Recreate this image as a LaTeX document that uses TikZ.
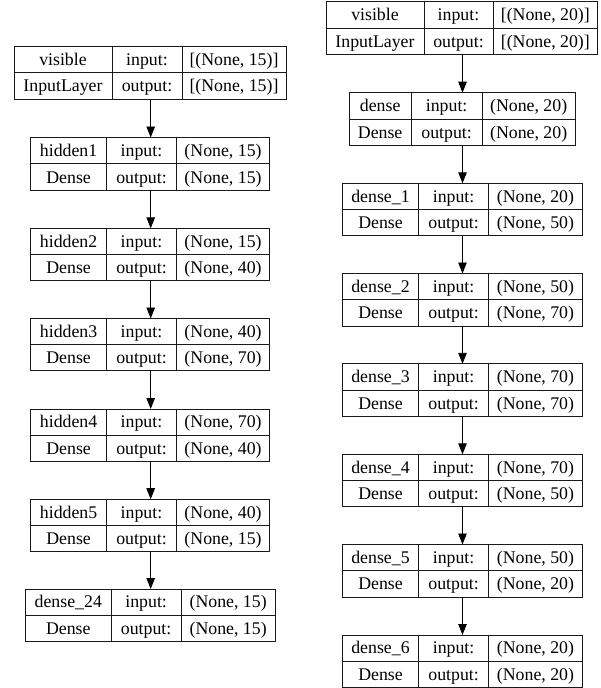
\documentclass[tikz,border=0pt]{standalone}
\usepackage{fontspec}
\setmainfont{Liberation Serif}
\usetikzlibrary{arrows.meta}
\tikzset{
  layerbox/.style={draw=black!90, line width=0.9pt, rectangle, inner sep=0pt, outer sep=0pt},
  layerline/.style={draw=black!90, line width=0.9pt},
  celltext/.style={inner sep=0pt, anchor=base, font=\fontsize{17.8}{20}\selectfont},
  link/.style={draw=black, line width=0.9pt, -{Triangle[length=11pt,width=8.5pt]}},
}
% \layerbox{id}{x0}{d1}{d2}{x1}{ytop}{ybot}
\newcommand\layerbox[7]{%
  \pgfmathsetmacro\LBw{#5-#2}%
  \pgfmathsetmacro\LBh{#7-#6}%
  \pgfmathsetmacro\LBcx{(#2+#5)/2}%
  \pgfmathsetmacro\LBcy{(#6+#7)/2}%
  \pgfmathsetmacro\LBca{(#2+#3)/2}%
  \pgfmathsetmacro\LBcb{(#3+#4)/2}%
  \pgfmathsetmacro\LBcc{(#4+#5)/2}%
  \pgfmathsetmacro\LBra{(#6+\LBcy)/2+5.9}%
  \pgfmathsetmacro\LBrb{(\LBcy+#7)/2+5.9}%
  \node[layerbox, minimum width=\LBw pt, minimum height=\LBh pt] (#1) at (\LBcx,\LBcy) {};
  \draw[layerline] (#1.west) -- (#1.east);
  \draw[layerline] (#3,#6) -- (#3,#7);
  \draw[layerline] (#4,#6) -- (#4,#7);
}
% \layertext{id}{name}{type}{in}{out}
\newcommand\layertext[5]{%
  \node[celltext] (#1-name) at (\LBca,\LBra) {#2};
  \node[celltext] (#1-type) at (\LBca,\LBrb) {#3};
  \node[celltext] (#1-inl) at (\LBcb,\LBra) {input:};
  \node[celltext] (#1-outl) at (\LBcb,\LBrb) {output:};
  \node[celltext] (#1-in) at (\LBcc,\LBra) {#4};
  \node[celltext] (#1-out) at (\LBcc,\LBrb) {#5};
}
\begin{document}
\begin{tikzpicture}[x=1pt,y=-1pt]
\useasboundingbox (0,0) rectangle (601,688);
% left column
\layerbox{visL}{14}{112}{182}{286}{46.5}{99.2}
\layertext{visL}{visible}{InputLayer}{[(None, 15)]}{[(None, 15)]}
\layerbox{h1}{30.5}{106.7}{176.3}{269.8}{137.5}{190.3}
\layertext{h1}{hidden1}{Dense}{(None, 15)}{(None, 15)}
\layerbox{h2}{30.5}{106.7}{176.3}{269.8}{228.3}{280.6}
\layertext{h2}{hidden2}{Dense}{(None, 15)}{(None, 40)}
\layerbox{h3}{30.5}{106.7}{176.3}{269.8}{318.5}{370.8}
\layertext{h3}{hidden3}{Dense}{(None, 40)}{(None, 70)}
\layerbox{h4}{30.5}{106.7}{176.3}{269.8}{409}{461.3}
\layertext{h4}{hidden4}{Dense}{(None, 70)}{(None, 40)}
\layerbox{h5}{30.5}{106.7}{176.3}{269.8}{499.2}{551.5}
\layertext{h5}{hidden5}{Dense}{(None, 40)}{(None, 15)}
\layerbox{d24}{25.3}{111.3}{181}{275.3}{589}{641.3}
\layertext{d24}{dense\_24}{Dense}{(None, 15)}{(None, 15)}
% right column
\layerbox{visR}{326}{424}{493}{597.7}{1.7}{54.3}
\layertext{visR}{visible}{InputLayer}{[(None, 20)]}{[(None, 20)]}
\layerbox{dn}{349}{411.3}{482}{575.3}{92.7}{145.5}
\layertext{dn}{dense}{Dense}{(None, 20)}{(None, 20)}
\layerbox{r1}{342.3}{418.7}{488.5}{582.5}{183.3}{235.8}
\layertext{r1}{dense\_1}{Dense}{(None, 20)}{(None, 50)}
\layerbox{r2}{342.3}{418.7}{488.5}{582.5}{273.5}{326}
\layertext{r2}{dense\_2}{Dense}{(None, 50)}{(None, 70)}
\layerbox{r3}{342.3}{418.7}{488.5}{582.5}{363.8}{416.3}
\layertext{r3}{dense\_3}{Dense}{(None, 70)}{(None, 70)}
\layerbox{r4}{342.3}{418.7}{488.5}{582.5}{454.3}{506.8}
\layertext{r4}{dense\_4}{Dense}{(None, 70)}{(None, 50)}
\layerbox{r5}{342.3}{418.7}{488.5}{582.5}{544.5}{597}
\layertext{r5}{dense\_5}{Dense}{(None, 50)}{(None, 20)}
\layerbox{r6}{342.3}{418.7}{488.5}{582.5}{635}{687.3}
\layertext{r6}{dense\_6}{Dense}{(None, 20)}{(None, 20)}
% connectors
\coordinate (axL) at (150.7,0);
\coordinate (axR) at (462.5,0);
\draw[link] (visL.south -| axL) -- (h1.north -| axL);
\draw[link] (h1.south -| axL) -- (h2.north -| axL);
\draw[link] (h2.south -| axL) -- (h3.north -| axL);
\draw[link] (h3.south -| axL) -- (h4.north -| axL);
\draw[link] (h4.south -| axL) -- (h5.north -| axL);
\draw[link] (h5.south -| axL) -- (d24.north -| axL);
\draw[link] (visR.south -| axR) -- (dn.north -| axR);
\draw[link] (dn.south -| axR) -- (r1.north -| axR);
\draw[link] (r1.south -| axR) -- (r2.north -| axR);
\draw[link] (r2.south -| axR) -- (r3.north -| axR);
\draw[link] (r3.south -| axR) -- (r4.north -| axR);
\draw[link] (r4.south -| axR) -- (r5.north -| axR);
\draw[link] (r5.south -| axR) -- (r6.north -| axR);
\end{tikzpicture}
\end{document}
